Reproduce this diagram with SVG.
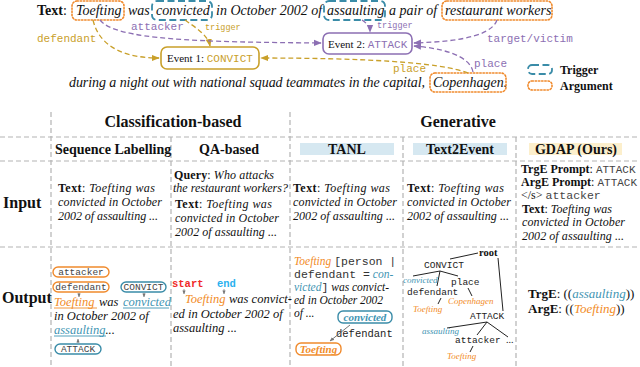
<svg xmlns="http://www.w3.org/2000/svg" width="640" height="367" viewBox="0 0 640 367">
<defs>
<style>
.s{font-family:"Liberation Serif","Times New Roman",serif;fill:#111}
.i{font-style:italic}
.b{font-weight:bold}
.m{font-family:"Liberation Mono","Courier New",monospace}
.or{fill:#f28c28}
.te{fill:#3f95b3}
.go{fill:#c9a02a}
.pu{fill:#8c6fb3}
.arg{fill:none;stroke:#f08a2c;stroke-width:1.6;stroke-dasharray:1.4 1.8;stroke-linecap:round}
.trg{fill:none;stroke:#3a8ca8;stroke-width:1.8;stroke-dasharray:7 3.5}
.grid{stroke:#b3b3b3;stroke-width:1.2;stroke-dasharray:5 3;fill:none}
.cg{fill:none;stroke:#c9a02a;stroke-width:1.3;stroke-dasharray:5 3}
.cp{fill:none;stroke:#8c6fb3;stroke-width:1.3;stroke-dasharray:5 3}
.pill-o{fill:#fff;stroke:#f08a2c;stroke-width:1.4}
.pill-t{fill:#fff;stroke:#3a8ca8;stroke-width:1.4}
.tree{stroke:#222;stroke-width:1;fill:none}
.tick{stroke:#888;stroke-width:0.8;fill:none}
</style>
<marker id="ag" viewBox="0 0 10 10" refX="9" refY="5" markerWidth="6" markerHeight="6" orient="auto"><path d="M0,1 L10,5 L0,9 z" fill="#c9a02a"/></marker>
<marker id="ap" viewBox="0 0 10 10" refX="9" refY="5" markerWidth="6" markerHeight="6" orient="auto"><path d="M0,1 L10,5 L0,9 z" fill="#8c6fb3"/></marker>
<marker id="ak" viewBox="0 0 10 10" refX="9" refY="5" markerWidth="5" markerHeight="5" orient="auto"><path d="M0,1 L10,5 L0,9 z" fill="#777"/></marker>
</defs>
<rect width="640" height="367" fill="#fff"/>

<!-- top sentence -->
<g id="sentence">
<text class="s" font-size="14" y="15"><tspan x="37" class="b">Text</tspan><tspan>: </tspan><tspan x="76" class="i">Toefting</tspan><tspan x="128" class="i">was</tspan><tspan x="156" class="i">convicted</tspan><tspan x="216" class="i">in October 2002 of</tspan><tspan x="327" class="i">assaulting</tspan><tspan x="389" class="i">a pair of</tspan><tspan x="445" class="i">restaurant workers</tspan></text>
<text class="s i" font-size="14" x="69" y="87" textLength="356" lengthAdjust="spacing">during a night out with national squad teammates in the capital,</text>
<text class="s i" font-size="14" x="433" y="87">Copenhagen.</text>
<rect class="arg" x="72" y="1" width="52" height="19" rx="5"/>
<rect class="trg" x="152" y="1" width="60" height="19" rx="5"/>
<rect class="trg" x="324" y="1" width="61" height="19" rx="5"/>
<rect class="arg" x="442" y="1" width="110" height="19" rx="5"/>
<rect class="arg" x="430" y="73" width="76" height="19" rx="5"/>
</g>

<g id="event1">
<rect x="161" y="47" width="98" height="22" rx="6" fill="#fff" stroke="#c9a02a" stroke-width="1.6"/>
<text class="s" font-size="11" x="167" y="62">Event 1: <tspan class="m go">CONVICT</tspan></text>
</g>
<g id="event2">
<rect x="323" y="33" width="89" height="21" rx="6" fill="#fff" stroke="#8c6fb3" stroke-width="1.6"/>
<text class="s" font-size="11" x="328" y="47.5">Event 2: <tspan class="m pu">ATTACK</tspan></text>
</g>

<g id="connectors">
<path class="cg" d="M93,20 C100,50 130,58 159,58" marker-end="url(#ag)"/>
<path class="cg" d="M185,20 C196,28 208,35 210,46" marker-end="url(#ag)"/>
<path class="cg" d="M468,73 C440,62 360,58 261,58" marker-end="url(#ag)"/>
<path class="cp" d="M100,20 C115,40 200,42 321,43" marker-end="url(#ap)"/>
<path class="cp" d="M362,20 C368,24 370,28 370,32" marker-end="url(#ap)"/>
<path class="cp" d="M497,20 C490,40 440,42 414,43" marker-end="url(#ap)"/>
<path class="cp" d="M473,72 C470,55 440,48 414,46" marker-end="url(#ap)"/>
<text class="m go" font-size="11" x="37" y="42">defendant</text>
<text class="m go" font-size="8.5" x="205" y="30">trigger</text>
<text class="m pu" font-size="11" x="131" y="30">attacker</text>
<text class="m pu" font-size="8.5" x="377" y="28">trigger</text>
<text class="m pu" font-size="11" x="487" y="42">target/victim</text>
<text class="m pu" font-size="11" x="474" y="67">place</text>
<text class="m go" font-size="11" x="393" y="72">place</text>
</g>

<g id="legend">
<rect class="trg" x="528" y="65" width="24" height="9" rx="4"/>
<text class="s b" font-size="12" x="560" y="74">Trigger</text>
<rect class="arg" x="528" y="81" width="24" height="9" rx="4"/>
<text class="s b" font-size="12" x="560" y="90">Argument</text>
</g>

<!-- table grid -->
<g id="grid">
<line class="grid" x1="0" y1="137" x2="640" y2="137"/>
<line class="grid" x1="0" y1="161" x2="640" y2="161"/>
<line class="grid" x1="0" y1="247" x2="640" y2="247"/>
<line class="grid" x1="51" y1="112" x2="51" y2="367"/>
<line class="grid" x1="171" y1="137" x2="171" y2="367"/>
<line class="grid" x1="290" y1="112" x2="290" y2="367"/>
<line class="grid" x1="403" y1="137" x2="403" y2="367"/>
<line class="grid" x1="516" y1="137" x2="516" y2="367"/>
</g>

<g id="headers">
<text class="s b" font-size="16" x="173" y="127" text-anchor="middle">Classification-based</text>
<text class="s b" font-size="16" x="458" y="127" text-anchor="middle">Generative</text>
<text class="s b" font-size="14" x="55" y="154">Sequence Labelling</text>
<text class="s b" font-size="14" x="229" y="154" text-anchor="middle">QA-based</text>
<rect x="300" y="143" width="94" height="12" fill="#d6e8f1"/>
<text class="s b" font-size="14" x="347" y="154" text-anchor="middle">TANL</text>
<rect x="413" y="143" width="94" height="12" fill="#d6e8f1"/>
<text class="s b" font-size="14" x="460" y="154" text-anchor="middle">Text2Event</text>
<rect x="529" y="143" width="93" height="12" fill="#fcefcc"/>
<text class="s b" font-size="14" x="576" y="154" text-anchor="middle">GDAP (Ours)</text>
<text class="s b" font-size="16" x="3" y="208">Input</text>
<text class="s b" font-size="16" x="2" y="303">Output</text>
</g>

<g id="input-row">
<g id="in-sl" class="s" font-size="12">
<text x="58" y="192" textLength="97" lengthAdjust="spacing"><tspan class="b">Text</tspan>: <tspan class="i">Toefting was</tspan></text>
<text class="i" x="58" y="206" textLength="104" lengthAdjust="spacing">convicted in October</text>
<text class="i" x="58" y="220" textLength="100" lengthAdjust="spacing">2002 of assaulting ...</text>
</g>
<g id="in-qa" class="s" font-size="12">
<text x="174" y="179" textLength="100" lengthAdjust="spacing"><tspan class="b">Query</tspan>: <tspan class="i">Who attacks</tspan></text>
<text class="i" x="173" y="192">the restaurant workers?</text>
<text x="175" y="208" textLength="97" lengthAdjust="spacing"><tspan class="b">Text</tspan>: <tspan class="i">Toefting was</tspan></text>
<text class="i" x="175" y="222" textLength="104" lengthAdjust="spacing">convicted in October</text>
<text class="i" x="175" y="236" textLength="102" lengthAdjust="spacing">2002 of assaulting ...</text>
</g>
<g id="in-tanl" class="s" font-size="12">
<text x="293" y="192" textLength="97" lengthAdjust="spacing"><tspan class="b">Text</tspan>: <tspan class="i">Toefting was</tspan></text>
<text class="i" x="293" y="206" textLength="104" lengthAdjust="spacing">convicted in October</text>
<text class="i" x="293" y="220" textLength="102" lengthAdjust="spacing">2002 of assaulting ...</text>
</g>
<g id="in-t2e" class="s" font-size="12">
<text x="407" y="192" textLength="97" lengthAdjust="spacing"><tspan class="b">Text</tspan>: <tspan class="i">Toefting was</tspan></text>
<text class="i" x="407" y="206" textLength="104" lengthAdjust="spacing">convicted in October</text>
<text class="i" x="407" y="220" textLength="102" lengthAdjust="spacing">2002 of assaulting ...</text>
</g>
<g id="in-gdap" class="s" font-size="12">
<text x="521" y="173"><tspan class="b">TrgE Prompt</tspan>: <tspan class="m" font-size="11" fill="#444">ATTACK</tspan></text>
<text x="521" y="186"><tspan class="b">ArgE Prompt</tspan>: <tspan class="m" font-size="11" fill="#444">ATTACK</tspan></text>
<text x="521" y="199">&lt;/s&gt; <tspan class="m" font-size="11.5" fill="#444">attacker</tspan></text>
<text x="522" y="213" textLength="90" lengthAdjust="spacing"><tspan class="b">Text</tspan>: <tspan class="i">Toefting was</tspan></text>
<text class="i" x="522" y="226" textLength="103" lengthAdjust="spacing">convicted in October</text>
<text class="i" x="522" y="240" textLength="102" lengthAdjust="spacing">2002 of assaulting ...</text>
</g>
</g>

<g id="out-sl">
<rect class="pill-o" x="53" y="267" width="56" height="10" rx="5"/>
<text class="m" font-size="9.5" x="81" y="275" text-anchor="middle" fill="#444">attacker</text>
<rect class="pill-o" x="53" y="282" width="56" height="10" rx="5"/>
<text class="m" font-size="9.5" x="81" y="290" text-anchor="middle" fill="#444">defendant</text>
<rect class="pill-t" x="121" y="282" width="45" height="10" rx="5"/>
<text class="m" font-size="9.5" x="143.5" y="290" text-anchor="middle" fill="#444">CONVICT</text>
<line class="tick" x1="79" y1="293" x2="79" y2="297" marker-end="url(#ak)"/>
<line class="tick" x1="144" y1="293" x2="144" y2="297" marker-end="url(#ak)"/>
<text class="s i" font-size="12.5" y="306"><tspan x="54" class="or">Toefting</tspan><tspan x="99">was</tspan><tspan x="123" class="te">convicted</tspan></text>
<line x1="54" y1="308" x2="97" y2="308" stroke="#f28c28" stroke-width="0.9"/>
<line x1="123" y1="308" x2="169" y2="308" stroke="#3f95b3" stroke-width="0.9"/>
<text class="s i" font-size="12.5" x="54" y="320">in October 2002 of</text>
<text class="s i" font-size="12.5" x="54" y="334"><tspan class="te">assaulting</tspan>...</text>
<line x1="54" y1="336" x2="106" y2="336" stroke="#3f95b3" stroke-width="0.9"/>
<line class="tick" x1="78" y1="343" x2="78" y2="339" marker-end="url(#ak)"/>
<rect class="pill-t" x="55" y="344" width="46" height="10" rx="5"/>
<text class="m" font-size="9.5" x="78" y="352" text-anchor="middle" fill="#444">ATTACK</text>
</g>

<g id="out-qa">
<text class="m b" font-size="10.5" x="172" y="287" fill="#f02828">start</text>
<text class="m b" font-size="10.5" x="217" y="287" fill="#2ab0ee">end</text>
<line class="tick" x1="184" y1="289" x2="184" y2="294" marker-end="url(#ak)"/>
<line class="tick" x1="224" y1="289" x2="224" y2="294" marker-end="url(#ak)"/>
<text class="s i" font-size="12.5" y="303"><tspan x="185" class="or">Toefting</tspan><tspan x="229">was convict-</tspan></text>
<text class="s i" font-size="12.5" x="173" y="318">ed in October 2002 of</text>
<text class="s i" font-size="12.5" x="173" y="332">assaulting ...</text>
</g>

<g id="out-tanl">
<text class="s" font-size="11.5" y="265"><tspan x="294" class="i or">Toefting</tspan> <tspan class="m" fill="#333">[person |</tspan></text>
<text class="s" font-size="11.5" y="278"><tspan x="294" class="m" fill="#333">defendant =</tspan> <tspan class="i te">con-</tspan></text>
<text class="s" font-size="11.5" y="291"><tspan x="294" class="i te">victed</tspan><tspan class="m" fill="#333">]</tspan> <tspan class="i">was convict-</tspan></text>
<text class="s i" font-size="11.5" x="294" y="304">ed  in October 2002</text>
<text class="s i" font-size="11.5" x="294" y="317">of ...</text>
<rect class="pill-t" x="338" y="311" width="54" height="12" rx="5"/>
<text class="s i b te" font-size="11" x="365" y="320.5" text-anchor="middle">convicted</text>
<text class="m" font-size="10.5" x="336" y="337" fill="#222">defendant</text>
<line x1="350" y1="325" x2="330" y2="341" stroke="#666" stroke-width="0.9" marker-end="url(#ak)"/>
<rect class="pill-o" x="296" y="343" width="45" height="12" rx="5"/>
<text class="s i b or" font-size="11" x="318.5" y="352.5" text-anchor="middle">Toefting</text>
</g>

<g id="out-t2e">
<text class="s b" font-size="10.5" x="479" y="256">root</text>
<line class="tree" x1="478" y1="253" x2="450" y2="259"/>
<line class="tree" x1="498" y1="258" x2="503" y2="311"/>
<text class="m" font-size="9.5" x="424" y="268" fill="#222">CONVICT</text>
<polyline class="tree" points="413,276 440,271 458,276"/>
<line class="tree" x1="440" y1="271" x2="437" y2="286"/>
<text class="s i te" font-size="9" x="403" y="283">convicted</text>
<text class="m" font-size="9.5" x="451" y="285" fill="#222">place</text>
<text class="m" font-size="9.5" x="407" y="295" fill="#222">defendant</text>
<line class="tree" x1="441" y1="298" x2="438" y2="304"/>
<text class="s i or" font-size="9" x="413" y="312">Toefting</text>
<line class="tree" x1="468" y1="288" x2="472" y2="296"/>
<text class="s i or" font-size="9" x="448" y="304">Copenhagen</text>
<text class="m" font-size="9.5" x="470" y="319" fill="#222">ATTACK</text>
<line class="tree" x1="487" y1="322" x2="447" y2="328"/>
<line class="tree" x1="487" y1="322" x2="477" y2="335"/>
<line class="tree" x1="487" y1="322" x2="508" y2="337"/>
<text class="s i te" font-size="9" x="422" y="334">assaulting</text>
<text class="m" font-size="9.5" x="455" y="343" fill="#222">attacker</text>
<text class="s" font-size="10" x="506" y="343">...</text>
<line class="tree" x1="473" y1="346" x2="470" y2="352"/>
<text class="s i or" font-size="9" x="447" y="359">Toefting</text>
</g>

<g id="out-gdap">
<text class="s" font-size="13" x="528" y="298"><tspan class="b">TrgE</tspan>: ((<tspan class="i te">assaulting</tspan>))</text>
<text class="s" font-size="13" x="528" y="313"><tspan class="b">ArgE</tspan>: ((<tspan class="i or">Toefting</tspan>))</text>
</g>
</svg>
